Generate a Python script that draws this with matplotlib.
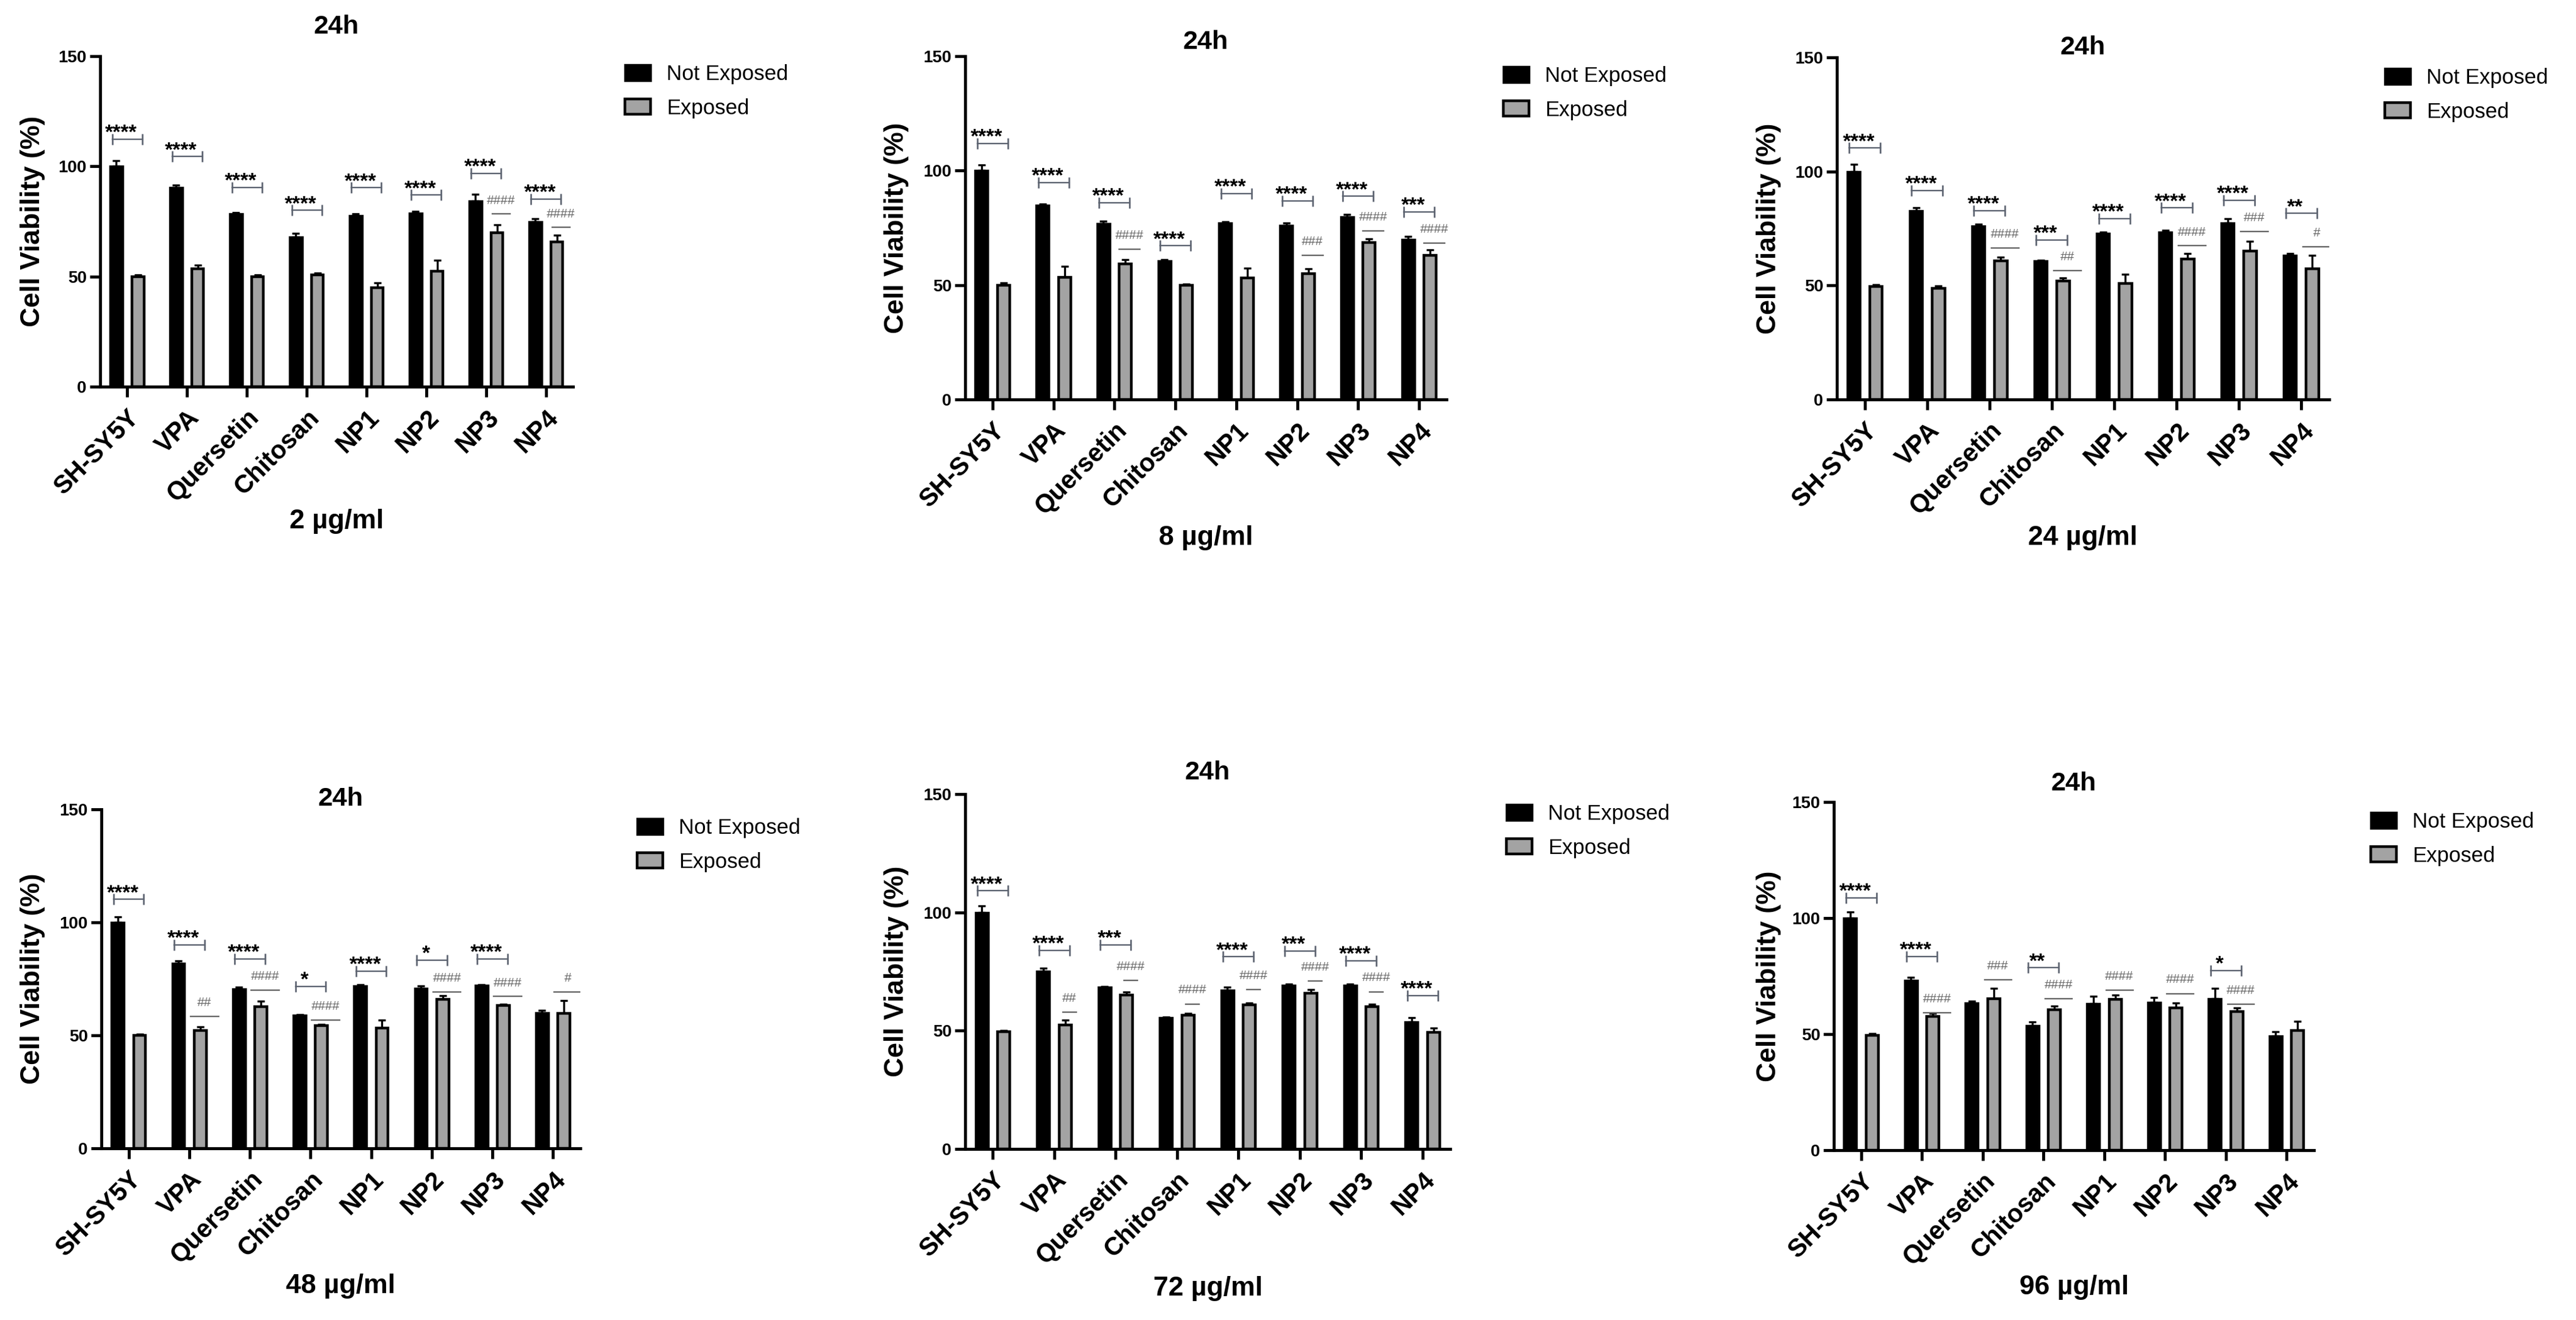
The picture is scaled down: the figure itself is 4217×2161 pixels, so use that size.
import numpy as np
import matplotlib.pyplot as plt
from matplotlib.patches import Patch
import matplotlib.transforms as mtransforms

plt.rcParams['font.family'] = ['Liberation Sans', 'DejaVu Sans']

W, H = 4217, 2161
DPI = 100

categories = ["SH-SY5Y", "VPA", "Quersetin", "Chitosan", "NP1", "NP2", "NP3", "NP4"]
doses = ["2 µg/ml", "8 µg/ml", "24 µg/ml", "48 µg/ml", "72 µg/ml", "96 µg/ml"]
time_label = "24h"
series_names = ["Not Exposed", "Exposed"]

# mean viability (%) and upper error
not_exposed_2 = [100, 90.3, 78.4, 67.9, 77.6, 78.8, 84.2, 75.0]
not_exposed_2_err = [2.7, 1.3, 0.5, 1.8, 1.0, 0.7, 3.2, 1.3]
exposed_2 = [50.0, 53.5, 49.8, 50.7, 45.0, 52.5, 70.0, 65.6]
exposed_2_err = [0.8, 1.8, 1.0, 0.8, 2.2, 5.0, 3.5, 3.2]

not_exposed_8 = [100, 84.8, 76.8, 60.6, 77.1, 76.0, 79.9, 69.8]
not_exposed_8_err = [2.6, 0.7, 1.1, 0.5, 0.6, 1.1, 1.0, 1.5]
exposed_8 = [50.0, 53.3, 59.3, 49.8, 53.2, 54.9, 68.6, 62.9]
exposed_8_err = [1.0, 5.0, 1.7, 0.6, 4.3, 2.2, 1.7, 2.6]

not_exposed_24 = [100, 82.7, 76.2, 60.8, 72.8, 73.5, 77.5, 63.1]
not_exposed_24_err = [3.0, 1.5, 0.6, 0.3, 0.6, 0.8, 1.8, 0.9]
exposed_24 = [49.6, 48.7, 60.8, 52.0, 51.0, 61.5, 65.1, 57.4]
exposed_24_err = [0.8, 1.2, 1.5, 1.4, 4.0, 2.6, 4.2, 5.7]

not_exposed_48 = [100, 81.8, 70.5, 58.8, 71.8, 70.8, 72.2, 60.0]
not_exposed_48_err = [2.5, 1.2, 0.8, 0.4, 0.5, 1.0, 0.3, 1.0]
exposed_48 = [50.0, 52.2, 62.7, 54.3, 53.3, 66.0, 63.3, 59.7]
exposed_48_err = [0.6, 1.6, 2.5, 0.6, 3.5, 1.5, 0.6, 5.8]

not_exposed_72 = [100, 75.2, 68.3, 55.4, 67.2, 69.3, 69.3, 53.8]
not_exposed_72_err = [2.7, 1.3, 0.5, 0.4, 1.3, 0.5, 0.3, 1.6]
exposed_72 = [49.6, 52.5, 65.0, 56.5, 61.0, 65.8, 60.2, 49.4]
exposed_72_err = [0.6, 2.0, 1.4, 0.8, 0.8, 1.6, 1.1, 1.6]

not_exposed_96 = [100, 73.1, 63.4, 53.7, 63.2, 63.7, 65.3, 49.1]
not_exposed_96_err = [2.7, 1.5, 0.8, 1.5, 3.0, 2.0, 4.4, 2.0]
exposed_96 = [49.6, 57.6, 65.3, 60.5, 64.9, 61.3, 59.7, 51.6]
exposed_96_err = [0.6, 1.3, 4.5, 1.6, 2.0, 2.0, 1.6, 4.0]

# significance vs. not exposed (stars) and vs. control (hashes), with bracket heights
stars_2 = ["****", "****", "****", "****", "****", "****", "****", "****"]
stars_2_y = [112.4, 104.4, 90.4, 80.0, 90.3, 87.0, 96.8, 85.2]
hashes_2 = ["", "", "", "", "", "", "####", "####"]
hashes_2_y = [0, 0, 0, 0, 0, 0, 78.4, 72.4]

stars_8 = ["****", "****", "****", "****", "****", "****", "****", "***"]
stars_8_y = [111.9, 94.8, 86.0, 67.2, 89.9, 86.8, 88.8, 81.9]
hashes_8 = ["", "", "####", "", "", "###", "####", "####"]
hashes_8_y = [0, 0, 65.7, 0, 0, 62.9, 73.7, 68.3]

stars_24 = ["****", "****", "****", "***", "****", "****", "****", "**"]
stars_24_y = [110.3, 91.7, 82.9, 70.0, 79.3, 84.0, 87.4, 81.6]
hashes_24 = ["", "", "####", "##", "", "####", "###", "#"]
hashes_24_y = [0, 0, 66.5, 56.6, 0, 67.4, 73.6, 67.0]

stars_48 = ["****", "****", "****", "*", "****", "*", "****", ""]
stars_48_y = [110.2, 90.0, 83.8, 71.7, 78.5, 83.3, 83.8, 0]
hashes_48 = ["", "##", "####", "####", "", "####", "####", "#"]
hashes_48_y = [0, 58.5, 70.0, 56.8, 0, 69.3, 67.2, 69.3]

stars_72 = ["****", "****", "***", "", "****", "***", "****", "****"]
stars_72_y = [109.1, 83.9, 86.3, 0, 81.2, 83.6, 79.6, 64.8]
hashes_72 = ["", "##", "####", "####", "####", "####", "####", ""]
hashes_72_y = [0, 57.8, 71.2, 61.3, 67.4, 70.9, 66.4, 0]

stars_96 = ["****", "****", "", "**", "", "", "*", ""]
stars_96_y = [108.8, 83.5, 0, 78.6, 0, 0, 77.5, 0]
hashes_96 = ["", "####", "###", "####", "####", "####", "####", ""]
hashes_96_y = [0, 59.2, 73.5, 65.3, 68.9, 67.5, 62.9, 0]

panels = [
    (not_exposed_2, not_exposed_2_err, exposed_2, exposed_2_err, stars_2, stars_2_y, hashes_2, hashes_2_y),
    (not_exposed_8, not_exposed_8_err, exposed_8, exposed_8_err, stars_8, stars_8_y, hashes_8, hashes_8_y),
    (not_exposed_24, not_exposed_24_err, exposed_24, exposed_24_err, stars_24, stars_24_y, hashes_24, hashes_24_y),
    (not_exposed_48, not_exposed_48_err, exposed_48, exposed_48_err, stars_48, stars_48_y, hashes_48, hashes_48_y),
    (not_exposed_72, not_exposed_72_err, exposed_72, exposed_72_err, stars_72, stars_72_y, hashes_72, hashes_72_y),
    (not_exposed_96, not_exposed_96_err, exposed_96, exposed_96_err, stars_96, stars_96_y, hashes_96, hashes_96_y),
]

# layout in pixels: (axis left, axis right, y=150 row, y=0 row)
axes_px = [(164, 938, 92, 633), (1580, 2368, 92, 654), (3007, 3813, 94, 654),
           (166, 950, 1325, 1880), (1580, 2374, 1300, 1881), (3002, 3788, 1313, 1883)]
title_py = [44, 69, 78, 1308, 1265, 1283]
xlabel_py = [854, 880, 880, 2106, 2109, 2108]
ylabel_px = [54, 1467, 2895, 54, 1467, 2895]
legend_px = [(1023, 121), (2461, 124), (3904, 127), (1043, 1355), (2466, 1332), (3881, 1345)]
hash_halfwidth = [0.15, 0.17, 0.22, 0.23, 0.11, 0.22]

GRAY = "#a3a3a3"
BRACKET = "#5c6370"
HASH = "#666666"

fig = plt.figure(figsize=(W / DPI, H / DPI), dpi=DPI)

x = np.arange(len(categories))
for k, (ne, ne_err, ex, ex_err, stars, stars_y, hashes, hashes_y) in enumerate(panels):
    left, right, top, zero = axes_px[k]
    ax = fig.add_axes([left / W, 1 - zero / H, (right - left) / W, (zero - top) / H])

    ax.bar(x - 0.18, ne, width=0.21, color="black", edgecolor="black", linewidth=2.5, zorder=3)
    ax.bar(x + 0.18, ex, width=0.2, color=GRAY, edgecolor="black", linewidth=3.2, zorder=3)
    ax.errorbar(x - 0.18, ne, yerr=[np.zeros(len(ne)), ne_err], fmt="none", ecolor="black",
                elinewidth=2.4, capsize=4.5, capthick=2.4, zorder=2)
    ax.errorbar(x + 0.18, ex, yerr=[np.zeros(len(ex)), ex_err], fmt="none", ecolor="black",
                elinewidth=2.4, capsize=4.5, capthick=2.4, zorder=2)

    for i in range(len(categories)):
        if stars[i]:
            ax.plot([i - 0.25, i + 0.25], [stars_y[i], stars_y[i]], color=BRACKET, lw=1.7,
                    marker="|", markersize=13, mew=1.9)
            ax.text(i - 0.1, stars_y[i] + 0.3, stars[i], ha="center", va="baseline",
                    fontsize=24, fontweight="bold", color="black")
        if hashes[i]:
            hw = hash_halfwidth[k]
            ax.plot([i + 0.25 - hw, i + 0.25 + hw], [hashes_y[i], hashes_y[i]], color=HASH, lw=1.7)
            ax.text(i + 0.25, hashes_y[i] + 4.5, hashes[i], ha="center", va="baseline",
                    fontsize=15, color=HASH)

    ax.set_xlim(-0.45, 7.45)
    ax.set_ylim(0, 150)
    ax.set_yticks([0, 50, 100, 150])
    ax.set_xticks(x)
    ax.set_xticklabels(categories, rotation=45, ha="right", rotation_mode="anchor",
                       fontsize=30, fontweight="bold")
    shift = mtransforms.ScaledTranslation(9 / DPI, -6 / DPI, fig.dpi_scale_trans)
    for lab in ax.get_xticklabels():
        lab.set_transform(lab.get_transform() + shift)
    for lab in ax.get_yticklabels():
        lab.set_fontsize(20)
        lab.set_fontweight("bold")
    ax.tick_params(axis="both", direction="out", length=12, width=3.5, color="black")
    ax.tick_params(axis="x", pad=10)
    ax.tick_params(axis="y", pad=4)
    for s in ["top", "right"]:
        ax.spines[s].set_visible(False)
    for s in ["left", "bottom"]:
        ax.spines[s].set_linewidth(3.5)

    h = zero - top
    ax.set_ylabel("Cell Viability (%)", fontsize=32, fontweight="bold", va="center")
    ax.yaxis.set_label_coords((ylabel_px[k] - left) / (right - left), 0.5)
    ax.set_xlabel(doses[k], fontsize=32, fontweight="bold", va="center")
    ax.xaxis.set_label_coords(0.5, (zero - xlabel_py[k]) / h)
    ax.text(0.5, (zero - title_py[k]) / h, time_label, transform=ax.transAxes,
            ha="center", va="center", fontsize=31, fontweight="bold")

    lx, ly = legend_px[k]
    handles = [Patch(facecolor="black", edgecolor="black", linewidth=2.5),
               Patch(facecolor=GRAY, edgecolor="black", linewidth=3.2)]
    ax.legend(handles, series_names, loc="upper left", bbox_to_anchor=(lx / W, 1 - (ly - 16) / H),
              bbox_transform=fig.transFigure, frameon=False, borderpad=0, borderaxespad=0,
              handlelength=1.2, handleheight=0.75, handletextpad=0.75, labelspacing=0.65,
              fontsize=25)

fig.savefig("out.png", dpi=DPI, facecolor="white")
